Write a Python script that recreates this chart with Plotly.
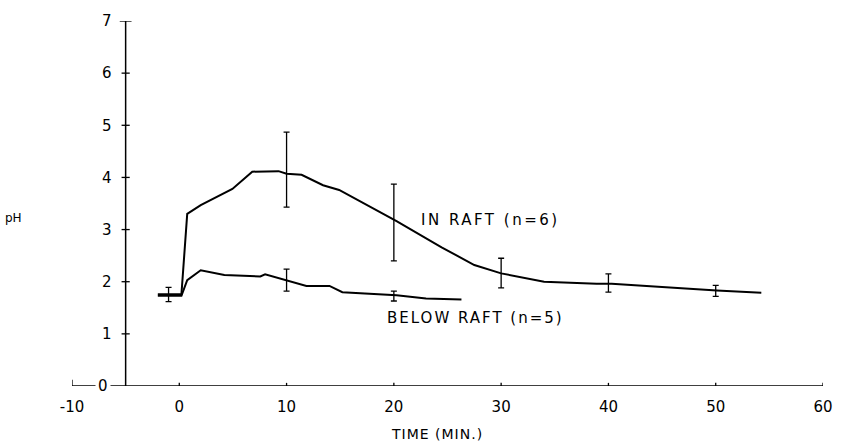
import plotly.graph_objects as go

# IN RAFT (n=6) curve
in_x = [-2.0, 0.2, 0.74, 2.0, 4.95, 6.8, 9.25, 10.0, 11.4, 13.4, 14.9, 18.0, 20.25, 24.45, 27.5, 30.0, 34.0, 38.9, 40.3, 45.0, 50.1, 54.25]
in_y = [1.76, 1.76, 3.30, 3.47, 3.78, 4.11, 4.12, 4.07, 4.05, 3.85, 3.76, 3.41, 3.16, 2.66, 2.32, 2.16, 2.00, 1.96, 1.96, 1.90, 1.83, 1.79]

# BELOW RAFT (n=5) curve
bl_x = [-2.0, 0.2, 0.74, 2.0, 4.2, 7.55, 8.0, 9.9, 11.85, 14.0, 15.2, 20.25, 23.0, 26.3]
bl_y = [1.73, 1.73, 2.03, 2.22, 2.13, 2.10, 2.14, 2.03, 1.92, 1.92, 1.80, 1.74, 1.68, 1.66]

# error bars (x, low, high)
in_err_x = [10, 20, 30, 40, 50]
in_err_lo = [3.43, 2.40, 1.88, 1.80, 1.72]
in_err_hi = [4.87, 3.87, 2.45, 2.15, 1.93]

bl_err_x = [-1, 10, 20]
bl_err_lo = [1.62, 1.82, 1.63]
bl_err_hi = [1.89, 2.24, 1.82]

x_ticks = [-10, 0, 10, 20, 30, 40, 50, 60]
y_ticks = [1, 2, 3, 4, 5, 6, 7]

FONT = "DejaVu Sans"
fig = go.Figure()

for ex, lo, hi in [(in_err_x, in_err_lo, in_err_hi), (bl_err_x, bl_err_lo, bl_err_hi)]:
    mid = [(a + b) / 2 for a, b in zip(lo, hi)]
    half = [(b - a) / 2 for a, b in zip(lo, hi)]
    fig.add_trace(go.Scatter(
        x=ex, y=mid, mode="markers", marker=dict(size=0.1, color="black"),
        error_y=dict(type="data", array=half, symmetric=True, color="black", thickness=1.3, width=3),
        showlegend=False, hoverinfo="skip", cliponaxis=False))

fig.add_trace(go.Scatter(x=in_x, y=in_y, mode="lines", line=dict(color="black", width=2),
                         showlegend=False, cliponaxis=False))
fig.add_trace(go.Scatter(x=bl_x, y=bl_y, mode="lines", line=dict(color="black", width=2),
                         showlegend=False, cliponaxis=False))

shapes = []
shapes.append(dict(type="line", x0=-10, x1=60, y0=0, y1=0, xref="x", yref="y", line=dict(color="black", width=1.5)))
shapes.append(dict(type="line", x0=-5, x1=-5, y0=0, y1=7, xref="x", yref="y", line=dict(color="black", width=1.5)))
for t in x_ticks:
    h = 0.12 if t == -10 else 0.06
    shapes.append(dict(type="line", x0=t, x1=t, y0=-h, y1=h, xref="x", yref="y", line=dict(color="black", width=1.3)))
for t in y_ticks:
    w = 0.55 if t == 7 else 0.38
    shapes.append(dict(type="line", x0=-5 - w, x1=-5 + w, y0=t, y1=t, xref="x", yref="y", line=dict(color="black", width=1.3)))

W, H = 845, 444
ml, mr, mt, mb = 72, 16, 16, 58
pw, ph = W - ml - mr, H - mt - mb

annotations = [
    dict(x=-7.1, y=0, text="0", showarrow=False, xref="x", yref="y", bgcolor="white",
         font=dict(family=FONT, size=15, color="black"), borderpad=2),
    dict(x=22.3, y=3.19, text='<span style="letter-spacing:2.5px">IN RAFT (n=6)</span>', showarrow=False,
         xref="x", yref="y", xanchor="left", yanchor="middle", font=dict(family=FONT, size=15, color="black")),
    dict(x=19.2, y=1.30, text='<span style="letter-spacing:2px">BELOW RAFT (n=5)</span>', showarrow=False,
         xref="x", yref="y", xanchor="left", yanchor="middle", font=dict(family=FONT, size=15, color="black")),
    dict(x=(13 - ml) / pw, y=(H - mb - 216) / ph, text="pH", showarrow=False, xref="paper", yref="paper",
         xanchor="center", yanchor="middle", font=dict(family=FONT, size=12, color="black")),
    dict(x=(440 - ml) / pw, y=(H - mb - 435) / ph, xref="paper", yref="paper",
         text='<span style="letter-spacing:1px">TIME (MIN.)</span>', xanchor="center", yanchor="middle",
         showarrow=False, font=dict(family=FONT, size=14, color="black")),
]

fig.update_layout(
    width=W, height=H, margin=dict(l=ml, r=mr, t=mt, b=mb),
    paper_bgcolor="white", plot_bgcolor="white",
    shapes=shapes, annotations=annotations,
    xaxis=dict(range=[-10, 60], tickvals=x_ticks, ticktext=[("-" + str(-t)) if t < 0 else str(t) for t in x_ticks],
               showgrid=False, zeroline=False, showline=False, ticks="", ticklen=0, ticklabelstandoff=10,
               tickfont=dict(family=FONT, size=15, color="black")),
    yaxis=dict(range=[0, 7], tickvals=y_ticks, showgrid=False, zeroline=False, showline=False, ticks="",
               anchor="free", position=5 / 70, ticklabelstandoff=14,
               tickfont=dict(family=FONT, size=15, color="black")),
)

fig.write_html("out.html")
